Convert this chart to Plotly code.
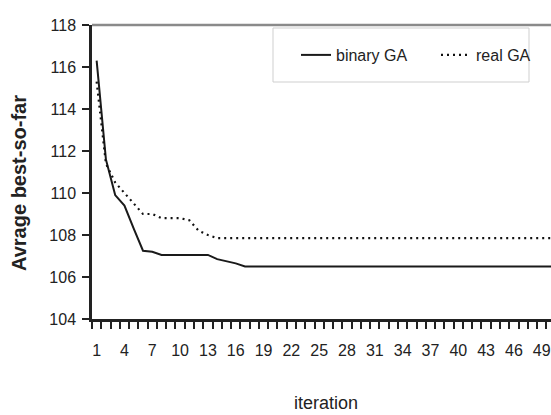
import plotly.graph_objects as go

iterations = list(range(1, 51))
binary_ga = [116.3, 111.6, 109.9, 109.4, 108.3, 107.25, 107.2, 107.05, 107.05, 107.05,
             107.05, 107.05, 107.05, 106.85, 106.75, 106.65] + [106.5] * 34
real_ga = [115.3, 111.4, 110.5, 110.0, 109.5, 109.0, 109.0, 108.8, 108.8, 108.8,
           108.7, 108.2, 108.0, 107.85] + [107.85] * 36
x_tick_vals = list(range(1, 50, 3))
y_tick_vals = list(range(104, 119, 2))

FONT = "Liberation Sans, Arial, sans-serif"
PW, PH, L, T = 459, 294, 92, 25


def px(x):
    return (x - L) / PW


def py(y):
    return (T + PH - y) / PH


fig = go.Figure()
fig.add_trace(go.Scatter(x=iterations, y=binary_ga, mode="lines", name="binary GA",
                         line=dict(color="#1a1a1a", width=2)))
fig.add_trace(go.Scatter(x=iterations, y=real_ga, mode="lines", name="real GA",
                         line=dict(color="#111111", width=2.2, dash="2px,4px")))

fig.update_layout(
    width=551, height=415,
    margin=dict(l=L, r=0, t=T, b=415 - T - PH, autoexpand=False),
    paper_bgcolor="white", plot_bgcolor="white",
    font=dict(family=FONT, color="#222"),
    showlegend=True,
    legend=dict(orientation="h", x=px(296), y=py(55), xanchor="left", yanchor="middle",
                borderwidth=0, bgcolor="rgba(0,0,0,0)",
                font=dict(size=16, family=FONT, color="#222"),
                entrywidth=95, entrywidthmode="pixels", tracegroupgap=0),
    xaxis=dict(range=[0.5, 50.0], tickmode="array", tickvals=x_tick_vals,
               ticks="", showgrid=False, zeroline=False,
               showline=True, linecolor="#222", linewidth=2.5,
               tickfont=dict(size=16, family=FONT, color="#222"),
               ticklabelstandoff=15,
               minor=dict(tickmode="linear", tick0=0.5, dtick=1, ticks="outside",
                          ticklen=7, tickwidth=1.5, tickcolor="#222", showgrid=False)),
    yaxis=dict(range=[104, 118], tickmode="array", tickvals=y_tick_vals,
               ticks="outside", ticklen=7, tickwidth=1.5, tickcolor="#222",
               showgrid=False, zeroline=False,
               showline=True, linecolor="#222", linewidth=2.5,
               tickfont=dict(size=16, family=FONT, color="#222"),
               ticklabelstandoff=3),
    shapes=[
        dict(type="line", xref="paper", yref="paper", x0=0, x1=1, y0=1, y1=1,
             line=dict(color="#8a8a8a", width=2.5)),
        dict(type="rect", xref="paper", yref="paper", x0=px(273), x1=px(529),
             y0=py(82), y1=py(28), line=dict(color="#cfcfcf", width=1),
             fillcolor="rgba(0,0,0,0)", layer="below"),
    ],
    annotations=[
        dict(text="<b>Avrage best-so-far</b>", xref="paper", yref="paper",
             x=px(19), y=py(183), textangle=-90, showarrow=False,
             xanchor="center", yanchor="middle",
             font=dict(size=20, family=FONT, color="#222")),
        dict(text="iteration", xref="paper", yref="paper",
             x=px(326), y=py(403), showarrow=False,
             xanchor="center", yanchor="middle",
             font=dict(size=18, family=FONT, color="#222")),
    ],
)

fig.write_html("out.html")
